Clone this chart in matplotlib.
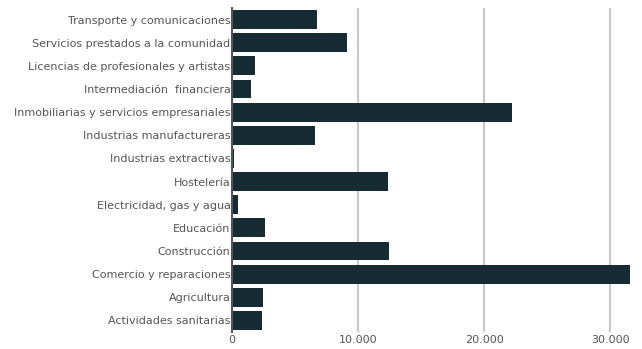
import matplotlib.pyplot as plt
from matplotlib.ticker import FuncFormatter

categories = [
    "Transporte y comunicaciones",
    "Servicios prestados a la comunidad",
    "Licencias de profesionales y artistas",
    "Intermediación  financiera",
    "Inmobiliarias y servicios empresariales",
    "Industrias manufactureras",
    "Industrias extractivas",
    "Hostelería",
    "Electricidad, gas y agua",
    "Educación",
    "Construcción",
    "Comercio y reparaciones",
    "Agricultura",
    "Actividades sanitarias",
]
values = [6740, 9120, 1820, 1510, 22200, 6580, 150, 12370, 480, 2620, 12450, 31560, 2460, 2380]
xticks = [0, 10000, 20000, 30000]

bar_color = "#172b33"
text_color = "#555555"

fig = plt.figure(figsize=(6.42, 3.49), dpi=100)
ax = fig.add_axes([232 / 642, 17 / 349, (630 - 232) / 642, (341 - 17) / 349])

pos = list(range(len(categories)))
ax.barh(pos, values, height=0.82, color=bar_color, zorder=3)
ax.set_yticks(pos)
ax.set_yticklabels(categories)
ax.set_ylim(len(categories) - 0.5, -0.5)
ax.set_xlim(0, max(values))
ax.set_xticks(xticks)
ax.xaxis.set_major_formatter(FuncFormatter(lambda v, p: f"{int(v):,}".replace(",", ".")))

ax.grid(axis="x", color="#c8c8c8", linewidth=1.5, zorder=0)
for s in ["top", "right", "bottom"]:
    ax.spines[s].set_visible(False)
ax.spines["left"].set_color("#555555")
ax.spines["left"].set_linewidth(1.5)
ax.spines["left"].set_zorder(4)
ax.tick_params(axis="both", length=0, colors=text_color, labelsize=8)
ax.tick_params(axis="y", pad=1)
ax.tick_params(axis="x", pad=2)

fig.savefig("out.png", dpi=100)
